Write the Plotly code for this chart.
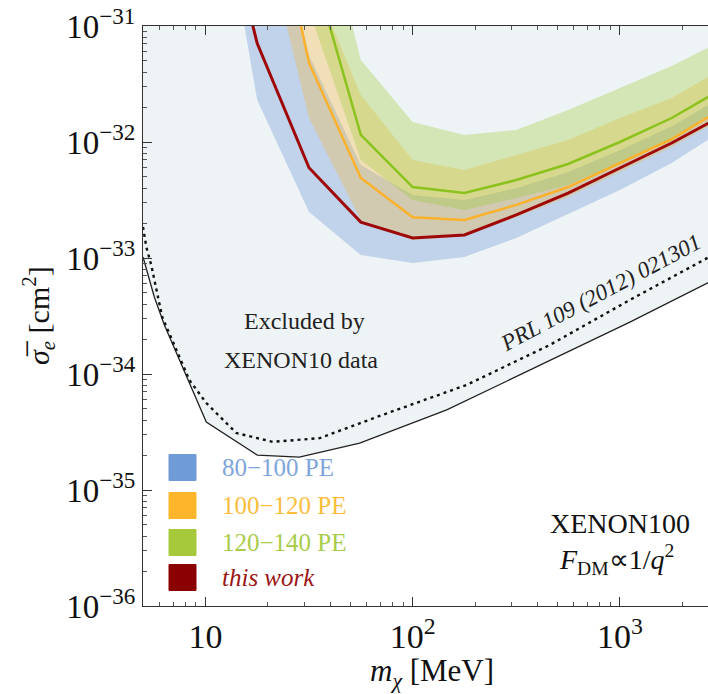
import math
import plotly.graph_objects as go

# ---------------- data ----------------
# common mass grid (MeV) for the XENON100 bands / lines
MASS = [10, 17.78, 31.62, 56.23, 100, 177.8, 316.2, 562.3, 1000, 1778, 3162]

# 80-100 PE band (blue)
BLUE_LO = [8.9e-30, 2.3e-32, 2.49e-33, 1.06e-33, 9.05e-34, 1.02e-33, 1.49e-33, 2.39e-33, 3.86e-33, 6.59e-33, 1.27e-32]
BLUE_HI = [1e-28, 4.9e-30, 5.6e-32, 6.34e-33, 3.49e-33, 3.16e-33, 4.0e-33, 5.5e-33, 8.5e-33, 1.37e-32, 2.49e-32]

# 100-120 PE band (orange), from MASS[1:]
ORANGE_LO = [1.12e-30, 1.61e-32, 2.13e-33, 1.43e-33, 1.55e-33, 2.25e-33, 3.36e-33, 5.5e-33, 9.06e-33, 1.61e-32]
ORANGE_HI = [1e-29, 3.04e-31, 2.54e-32, 7.0e-33, 5.74e-33, 7.73e-33, 1.04e-32, 1.61e-32, 2.39e-32, 4.35e-32]
ORANGE_LINE = [5.4e-30, 4.8e-32, 4.9e-33, 2.25e-33, 2.13e-33, 2.87e-33, 4.09e-33, 6.59e-33, 1.06e-32, 1.96e-32]

# 120-140 PE band (green), from MASS[2:]
GREEN_LO = [1.37e-31, 7.0e-33, 3.16e-33, 2.59e-33, 3.29e-33, 4.26e-33, 6.59e-33, 1.04e-32, 1.96e-32]
GREEN_HI = [3.1e-30, 5.09e-32, 1.49e-32, 1.15e-32, 1.27e-32, 1.89e-32, 2.92e-32, 4.52e-32, 7.57e-32]
GREEN_LINE = [4.2e-31, 1.15e-32, 4.09e-33, 3.63e-33, 4.7e-33, 6.46e-33, 1.0e-32, 1.61e-32, 2.92e-32]

# this work (red)
RED_LINE = [4.4e-30, 7.1e-32, 6.0e-33, 2.04e-33, 1.49e-33, 1.58e-33, 2.35e-33, 3.63e-33, 5.97e-33, 9.8e-33, 1.71e-32]

# XENON10 exclusion (solid) and PRL 109 (2012) 021301 (dotted)
X10_MASS = [5, 5.25, 5.67, 6.34, 8.37, 10.1, 17.8, 28.4, 55.5, 146, 444, 1117, 3000]
X10_SIGMA = [1.02e-33, 7.43e-34, 4.61e-34, 2.64e-34, 8.53e-35, 3.86e-35, 2.0e-35, 1.92e-35, 2.54e-35, 4.9e-35, 1.27e-34, 2.8e-34, 6.8e-34]
PRL_MASS = [5, 5.19, 5.48, 5.79, 6.19, 8.37, 10.1, 14.1, 21.1, 35.6, 71.6, 182, 459, 1117, 3000]
PRL_SIGMA = [1.85e-33, 1.24e-33, 8.7e-34, 5.62e-34, 3.1e-34, 8.87e-35, 5.62e-35, 3.1e-35, 2.6e-35, 2.8e-35, 4.44e-35, 8.04e-35, 1.78e-34, 4.35e-34, 1.13e-33]

X_TICKS = [10, 100, 1000]
X_TICKTEXT = ["10", "10<sup>2</sup>", "10<sup>3</sup>"]
Y_TICKS = [1e-36, 1e-35, 1e-34, 1e-33, 1e-32, 1e-31]
Y_TICKTEXT = ["10<sup>−36</sup>", "10<sup>−35</sup>", "10<sup>−34</sup>",
              "10<sup>−33</sup>", "10<sup>−32</sup>", "10<sup>−31</sup>"]
LEGEND_LABELS = ["80−100 PE", "100−120 PE", "120−140 PE", "<i>this work</i>"]

# ---------------- styles ----------------
FONT = "Liberation Serif"
BG_FILL = "#eef3f6"
BLUE_FILL = "rgba(110,155,215,0.36)"
ORANGE_FILL = "rgba(250,180,40,0.30)"
GREEN_FILL = "rgba(160,205,60,0.34)"
RED = "#9e0808"
ORANGE = "#fbb12a"
GREEN = "#8cc21e"
LEG_SQ = ["#6f9bd6", "#fdb52b", "#a6c93b", "#8b0000"]
LEG_TXT = ["#7fa6da", "#fbbd3c", "#a8cc4a", "#9b1515"]

fig = go.Figure()

def poly(xs, lo, hi, color):
    fig.add_trace(go.Scatter(x=list(xs) + list(xs)[::-1], y=list(lo) + list(hi)[::-1],
                             fill="toself", fillcolor=color, mode="lines",
                             line=dict(width=0), hoverinfo="skip", showlegend=False))

# excluded region (above XENON10 curve)
fig.add_trace(go.Scatter(x=X10_MASS + [X10_MASS[-1], X10_MASS[0]],
                         y=X10_SIGMA + [1e-29, 1e-29], fill="toself", fillcolor=BG_FILL,
                         mode="lines", line=dict(width=0), hoverinfo="skip", showlegend=False))

poly(MASS, BLUE_LO, BLUE_HI, BLUE_FILL)
poly(MASS[1:], ORANGE_LO, ORANGE_HI, ORANGE_FILL)
poly(MASS[2:], GREEN_LO, GREEN_HI, GREEN_FILL)

fig.add_trace(go.Scatter(x=MASS[2:], y=GREEN_LINE, mode="lines", line=dict(color=GREEN, width=2.5), showlegend=False))
fig.add_trace(go.Scatter(x=MASS[1:], y=ORANGE_LINE, mode="lines", line=dict(color=ORANGE, width=2.5), showlegend=False))
fig.add_trace(go.Scatter(x=MASS, y=RED_LINE, mode="lines", line=dict(color=RED, width=3), showlegend=False))

fig.add_trace(go.Scatter(x=X10_MASS, y=X10_SIGMA, mode="lines", line=dict(color="#222222", width=1.3), showlegend=False))
fig.add_trace(go.Scatter(x=PRL_MASS, y=PRL_SIGMA, mode="lines", line=dict(color="#111111", width=2.4, dash="3px,4px"), showlegend=False))

x_minor = [v * d for d in (1, 10, 100) for v in range(2, 10) if v * d > 5] + [2000]
x_minor = [m for m in x_minor if m not in (10, 100, 1000) and m < 2700]
y_minor = [v * 10 ** e for e in range(-36, -31) for v in range(2, 10)]

fig.update_xaxes(type="log", range=[math.log10(5), 3.4251],
                 tickvals=X_TICKS, ticktext=X_TICKTEXT, ticks="inside", ticklen=9,
                 tickcolor="#333", showline=True, linecolor="#333", linewidth=1,
                 mirror="ticks", showgrid=False, zeroline=False,
                 tickfont=dict(family=FONT, size=34, color="#111"),
                 minor=dict(tickvals=x_minor, ticks="inside", ticklen=4, tickcolor="#555", showgrid=False))
fig.update_yaxes(type="log", range=[-36, -31],
                 tickvals=Y_TICKS, ticktext=Y_TICKTEXT, ticks="inside", ticklen=9,
                 tickcolor="#333", showline=True, linecolor="#333", linewidth=1,
                 mirror=False, showgrid=False, zeroline=False,
                 tickfont=dict(family=FONT, size=33, color="#111"),
                 minor=dict(tickvals=y_minor, ticks="inside", ticklen=4, tickcolor="#555", showgrid=False))

ann = []
txt = dict(family=FONT, size=24, color="#222")
ann.append(dict(x=math.log10(30), y=-33.543, xref="x", yref="y", text="Excluded by",
                showarrow=False, xanchor="center", font=txt))
ann.append(dict(x=1.459, y=-33.879, xref="x", yref="y", text="XENON10 data",
                showarrow=False, xanchor="center", font=txt))
ann.append(dict(x=2.91, y=-33.30, xref="x", yref="y", text="<i>PRL 109 (2012) 021301</i>",
                showarrow=False, xanchor="center", textangle=-28,
                font=dict(family=FONT, size=23, color="#222")))
ann.append(dict(x=0.844, y=0.1414, xref="paper", yref="paper", text="XENON100", showarrow=False,
                xanchor="center", yanchor="middle", font=dict(family=FONT, size=28, color="#111")))
ann.append(dict(x=0.838, y=0.0800, xref="paper", yref="paper",
                text="<i>F</i><sub>DM</sub>∝1/<i>q</i><sup>2</sup>", showarrow=False,
                xanchor="center", yanchor="middle", font=dict(family=FONT, size=28, color="#111")))
# axis titles
ann.append(dict(x=-0.1858, y=0.5, xref="paper", yref="paper", textangle=-90,
                xanchor="center", yanchor="middle",
                text="<i>σ̅</i><sub><i>e</i></sub> [cm<sup>2</sup>]", showarrow=False,
                font=dict(family=FONT, size=30, color="#111")))
ann.append(dict(x=0.5115, y=-0.1155, xref="paper", yref="paper",
                xanchor="center", yanchor="middle",
                text="<i>m</i><sub><i>χ</i></sub> [MeV]", showarrow=False,
                font=dict(family=FONT, size=31, color="#111")))

# legend (drawn manually)
shapes = []
leg_y = [0.2388, 0.1733, 0.1095, 0.0491]
half = 13.0 / 580
for lab, yc, sq, tc in zip(LEGEND_LABELS, leg_y, LEG_SQ, LEG_TXT):
    shapes.append(dict(type="rect", xref="paper", yref="paper", x0=26 / 565, x1=53 / 565,
                       y0=yc - half, y1=yc + half, fillcolor=sq, line=dict(color=sq, width=1)))
    ann.append(dict(x=77 / 565, y=yc, xref="paper", yref="paper", xanchor="left", yanchor="middle",
                    text=lab, showarrow=False, font=dict(family=FONT, size=25, color=tc)))

fig.update_layout(width=708, height=694, margin=dict(l=143, r=0, t=26, b=88),
                  plot_bgcolor="white", paper_bgcolor="white",
                  annotations=ann, shapes=shapes, showlegend=False)

fig.write_html("out.html")
